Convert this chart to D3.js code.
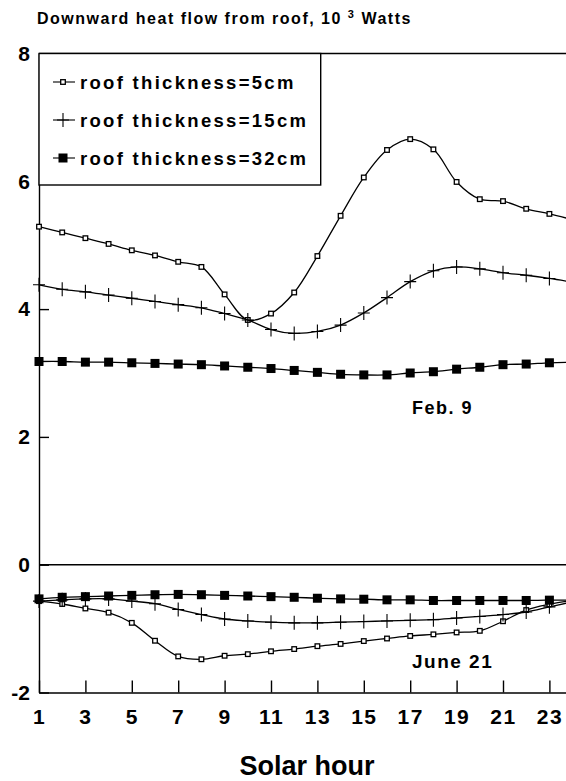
<!DOCTYPE html>
<html>
<head>
<meta charset="utf-8">
<script src="https://cdn.jsdelivr.net/npm/d3@7"></script>
<style>
  body { margin: 0; background: #fff; }
  text { font-family: "Liberation Sans", Arial, sans-serif; font-weight: bold; fill: #000; }
</style>
</head>
<body>
<script>
// chart values
const hours = [1, 2, 3, 4, 5, 6, 7, 8, 9, 10, 11, 12, 13, 14, 15, 16, 17, 18, 19, 20, 21, 22, 23, 24];
const hourTicks = [1, 3, 5, 7, 9, 11, 13, 15, 17, 19, 21, 23];
const valueTicks = [-2, 0, 2, 4, 6, 8];

// Feb. 9
const feb5  = [5.29, 5.20, 5.11, 5.02, 4.92, 4.84, 4.74, 4.66, 4.23, 3.83, 3.93, 4.26, 4.83, 5.46, 6.06, 6.49, 6.66, 6.50, 5.99, 5.72, 5.69, 5.57, 5.49, 5.40];
const feb15 = [4.38, 4.31, 4.27, 4.22, 4.17, 4.12, 4.07, 4.02, 3.93, 3.83, 3.68, 3.62, 3.65, 3.75, 3.94, 4.18, 4.43, 4.60, 4.66, 4.63, 4.57, 4.53, 4.48, 4.42];
const feb32 = [3.18, 3.18, 3.17, 3.17, 3.16, 3.15, 3.14, 3.13, 3.11, 3.09, 3.07, 3.04, 3.01, 2.98, 2.97, 2.97, 3.00, 3.02, 3.06, 3.09, 3.13, 3.14, 3.16, 3.17];
// June 21
const jun5  = [-0.57, -0.615, -0.685, -0.75, -0.91, -1.19, -1.435, -1.48, -1.425, -1.40, -1.355, -1.32, -1.275, -1.24, -1.195, -1.155, -1.115, -1.09, -1.06, -1.035, -0.885, -0.71, -0.62, -0.56];
const jun15 = [-0.57, -0.55, -0.535, -0.535, -0.57, -0.61, -0.70, -0.78, -0.85, -0.88, -0.90, -0.91, -0.91, -0.90, -0.89, -0.88, -0.87, -0.86, -0.835, -0.81, -0.78, -0.74, -0.66, -0.58];
const jun32 = [-0.535, -0.51, -0.50, -0.49, -0.48, -0.47, -0.465, -0.47, -0.48, -0.49, -0.50, -0.51, -0.525, -0.535, -0.54, -0.55, -0.55, -0.56, -0.56, -0.56, -0.56, -0.56, -0.555, -0.555];

const seriesNames = ["roof thickness=5cm", "roof thickness=15cm", "roof thickness=32cm"];

let width = 566, height = 781;

let svg = d3.select("body").append("svg")
    .attr("width", width)
    .attr("height", height);

// scales
let x = d3.scaleLinear().domain([1, 24]).range([39, 572.6]);
let y = d3.scaleLinear().domain([-2, 8]).range([692.5, 53.5]);

// title
let title = svg.append("text")
    .attr("x", 37).attr("y", 24)
    .style("font-size", "16px")
    .style("letter-spacing", "1.5px")
    .text("Downward heat flow from roof, 10 ");
title.append("tspan").attr("dy", -6).style("font-size", "11px").text("3");
title.append("tspan").attr("dy", 6).text(" Watts");

// y axis
let yAxis = svg.append("g")
    .attr("transform", "translate(" + x(1) + ",0)")
    .call(d3.axisLeft(y).tickValues(valueTicks).tickSizeInner(-10).tickSizeOuter(0).tickPadding(9)
        .tickFormat(function(d) { return d < 0 ? "-" + (-d) : String(d); }));
yAxis.selectAll("text").style("font-size", "21px");

// x axis
let xAxis = svg.append("g")
    .attr("transform", "translate(0," + y(-2) + ")")
    .call(d3.axisBottom(x).tickValues(hourTicks).tickSizeInner(-12).tickSizeOuter(0).tickPadding(17));
xAxis.selectAll("text").style("font-size", "21px").style("letter-spacing", "1.5px");

svg.selectAll(".domain, .tick line").attr("stroke", "#000").attr("stroke-width", 1.4);

// top frame line and zero line
svg.append("line")
    .attr("x1", x(1)).attr("x2", width)
    .attr("y1", y(8)).attr("y2", y(8))
    .attr("stroke", "#000").attr("stroke-width", 1.4);
svg.append("line")
    .attr("x1", x(1)).attr("x2", width)
    .attr("y1", y(0)).attr("y2", y(0))
    .attr("stroke", "#000").attr("stroke-width", 1.4);

let line = d3.line()
    .x(function(d, i) { return x(hours[i]); })
    .y(function(d) { return y(d); })
    .curve(d3.curveCatmullRom);

function drawSeries(vals, kind) {
    svg.append("path")
        .datum(vals)
        .attr("fill", "none")
        .attr("stroke", "#000")
        .attr("stroke-width", 1.3)
        .attr("d", line);
    let g = svg.append("g");
    vals.forEach(function(v, i) {
        drawMarker(g, x(hours[i]), y(v), kind);
    });
}

function drawMarker(g, cx, cy, kind) {
    if (kind === 0) {
        g.append("rect")
            .attr("x", cx - 2.3).attr("y", cy - 2.3)
            .attr("width", 4.6).attr("height", 4.6)
            .attr("fill", "#fff").attr("stroke", "#000").attr("stroke-width", 1.3);
    } else if (kind === 1) {
        g.append("path")
            .attr("d", "M" + (cx - 6) + "," + cy + "H" + (cx + 6) + "M" + cx + "," + (cy - 7) + "V" + (cy + 7))
            .attr("stroke", "#000").attr("stroke-width", 1.1);
    } else {
        g.append("rect")
            .attr("x", cx - 4.5).attr("y", cy - 4.5)
            .attr("width", 9).attr("height", 9)
            .attr("fill", "#000");
    }
}

drawSeries(feb5, 0);
drawSeries(feb15, 1);
drawSeries(feb32, 2);
drawSeries(jun5, 0);
drawSeries(jun15, 1);
drawSeries(jun32, 2);

// legend
let legend = svg.append("g");
legend.append("rect")
    .attr("x", x(1)).attr("y", y(8))
    .attr("width", 320.7 - x(1)).attr("height", 185 - y(8))
    .attr("fill", "#fff").attr("stroke", "#000").attr("stroke-width", 1.4);
seriesNames.forEach(function(name, i) {
    let ly = 82 + i * 38;
    legend.append("line")
        .attr("x1", 53).attr("x2", 75)
        .attr("y1", ly).attr("y2", ly)
        .attr("stroke", "#000").attr("stroke-width", 1.1);
    drawMarker(legend, 63, ly, i);
    legend.append("text")
        .attr("x", 80).attr("y", ly + 6.5)
        .style("font-size", "18.5px")
        .style("letter-spacing", "2.3px")
        .text(name);
});

// date labels
svg.append("text").attr("x", 412).attr("y", 414).style("font-size", "18px").style("letter-spacing", "1.5px").text("Feb. 9");
svg.append("text").attr("x", 412).attr("y", 668).style("font-size", "19px").style("letter-spacing", "1.5px").text("June 21");

// x axis title
svg.append("text")
    .attr("x", 307).attr("y", 775)
    .attr("text-anchor", "middle")
    .style("font-size", "27px")
    .text("Solar hour");
</script>
</body>
</html>
